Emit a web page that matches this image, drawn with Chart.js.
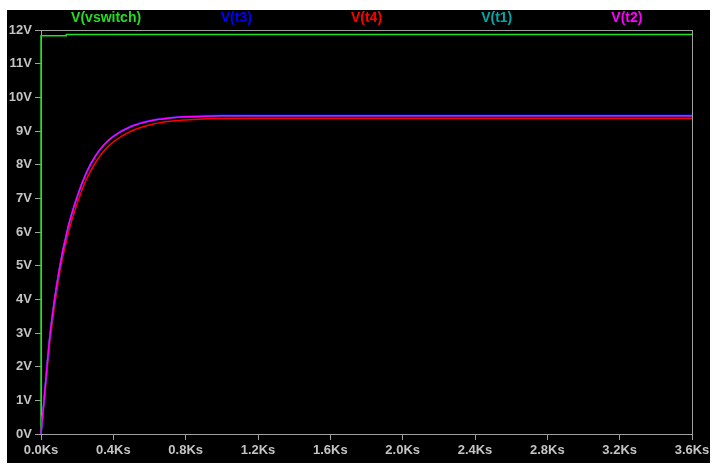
<!DOCTYPE html>
<html>
<head>
<meta charset="utf-8">
<script src="https://cdn.jsdelivr.net/npm/chart.js@4.4.0/dist/chart.umd.min.js"></script>
<style>
  html, body { margin: 0; padding: 0; background: #fff; }
  #wrap { width: 717px; height: 468px; }
</style>
</head>
<body>
<div id="wrap"><canvas id="myChart" width="717" height="468"></canvas></div>
<script>
// temps en Ks
const temps = [0, 0.02, 0.05, 0.1, 0.15, 0.2, 0.25, 0.3, 0.35, 0.4, 0.5, 0.6, 0.7, 0.8, 0.9, 1.0, 1.2, 1.6, 2.0, 3.6];

// tensions (V)
const vT3 = [0, 1.2, 2.95, 4.85, 6.15, 7.05, 7.75, 8.25, 8.6, 8.85, 9.15, 9.31, 9.39, 9.44, 9.46, 9.47, 9.47, 9.47, 9.47, 9.47];
const vT4 = [0, 1.1, 2.8, 4.7, 5.95, 6.85, 7.55, 8.05, 8.42, 8.68, 9.0, 9.18, 9.28, 9.33, 9.36, 9.37, 9.38, 9.38, 9.38, 9.38];
const vT1 = [0, 1.2, 2.95, 4.85, 6.15, 7.05, 7.75, 8.25, 8.6, 8.84, 9.14, 9.3, 9.38, 9.42, 9.44, 9.45, 9.45, 9.45, 9.45, 9.45];
const vT2 = [0, 1.2, 2.95, 4.85, 6.15, 7.05, 7.75, 8.25, 8.6, 8.84, 9.14, 9.3, 9.38, 9.42, 9.44, 9.45, 9.45, 9.45, 9.45, 9.45];

// V(vswitch) : marche a t=0
const tSwitch = [0, 0, 0.14, 0.14, 3.6];
const vSwitch = [0, 11.83, 11.83, 11.87, 11.87];

const labels = ['V(vswitch)', 'V(t3)', 'V(t4)', 'V(t1)', 'V(t2)'];
const couleurs = ['#22dd22', '#0000ff', '#ff0000', '#00a8a8', '#ff00ff'];

function points(xs, ys) {
  return xs.map((x, i) => ({ x: x, y: ys[i] }));
}

const fond = {
  id: 'fond',
  beforeDraw(chart) {
    const ctx = chart.ctx;
    ctx.save();
    ctx.fillStyle = '#000';
    ctx.fillRect(7, 10, 703, 453);
    ctx.restore();
  },
  beforeDatasetsDraw(chart) {
    // cadre gris, sous les traces
    const { ctx, chartArea: a } = chart;
    ctx.save();
    ctx.strokeStyle = '#a0a0a0';
    ctx.lineWidth = 1;
    ctx.strokeRect(a.left + 0.5, a.top + 0.5, a.right - a.left, a.bottom - a.top);
    ctx.restore();
  },
  afterDraw(chart) {
    // titres des traces en haut, comme LTspice
    const { ctx, chartArea: a } = chart;
    const n = chart.data.datasets.length;
    const w = (a.right - a.left) / n;
    ctx.save();
    ctx.font = 'bold 14px "Liberation Sans", Arial, sans-serif';
    ctx.textAlign = 'center';
    ctx.textBaseline = 'middle';
    chart.data.datasets.forEach((d, i) => {
      ctx.fillStyle = d.borderColor;
      ctx.fillText(d.label, a.left + (i + 0.5) * w, 18);
    });
    ctx.restore();
  }
};

const series = [points(tSwitch, vSwitch), points(temps, vT3), points(temps, vT4), points(temps, vT1), points(temps, vT2)];
const ordre = [4, 1, 3, 2, 0];

const tickFont = { family: '"Liberation Sans", Arial, sans-serif', size: 13, weight: 'bold' };

const ctx = document.getElementById('myChart');
const myChart = new Chart(ctx, {
  type: 'scatter',
  data: {
    datasets: labels.map((l, i) => ({
      label: l,
      data: series[i],
      showLine: true,
      borderColor: couleurs[i],
      backgroundColor: couleurs[i],
      borderWidth: 1.5,
      pointRadius: 0,
      tension: 0.35,
      cubicInterpolationMode: 'monotone',
      clip: 3,
      order: ordre[i]
    }))
  },
  options: {
    responsive: false,
    animation: false,
    layout: { padding: { top: 30, right: 25, left: 0, bottom: 0 } },
    plugins: {
      legend: { display: false },
      tooltip: { enabled: false }
    },
    scales: {
      x: {
        type: 'linear',
        min: 0,
        max: 3.6,
        afterFit: (s) => { s.height = 34; },
        ticks: {
          stepSize: 0.4,
          color: '#c4c4c4',
          font: tickFont,
          padding: 3,
          maxRotation: 0,
          autoSkip: false,
          callback: (v) => v.toFixed(1) + 'Ks'
        },
        grid: { drawOnChartArea: false, color: '#a0a0a0', tickLength: 6 },
        border: { display: false }
      },
      y: {
        min: 0,
        max: 12,
        afterFit: (s) => { s.width = 41; },
        ticks: {
          stepSize: 1,
          color: '#c4c4c4',
          font: tickFont,
          padding: 3,
          callback: (v) => v + 'V'
        },
        grid: { drawOnChartArea: false, color: '#a0a0a0', tickLength: 6 },
        border: { display: false }
      }
    }
  },
  plugins: [fond]
});
</script>
</body>
</html>
